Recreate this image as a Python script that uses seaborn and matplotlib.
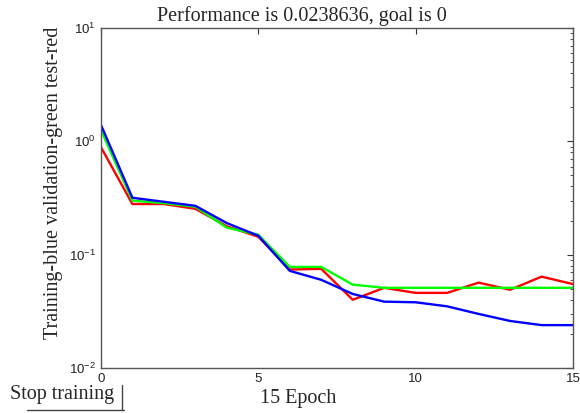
import matplotlib
matplotlib.use('Agg')
import matplotlib.pyplot as plt
import seaborn as sns
import pandas as pd
from matplotlib.lines import Line2D

# performance per epoch
epochs = list(range(16))
train = [1.40, 0.318, 0.293, 0.270, 0.190, 0.147, 0.072, 0.060, 0.045,
         0.0385, 0.038, 0.035, 0.030, 0.026, 0.0239, 0.0239]
validation = [1.26, 0.300, 0.285, 0.265, 0.173, 0.150, 0.078, 0.078, 0.0544,
              0.051, 0.051, 0.051, 0.051, 0.051, 0.051, 0.051]
test = [0.89, 0.280, 0.280, 0.254, 0.178, 0.144, 0.074, 0.075, 0.040,
        0.051, 0.046, 0.046, 0.0567, 0.049, 0.064, 0.055]

title = 'Performance is 0.0238636, goal is 0'
ylabel = 'Training-blue validation-green test-red'
xlabel = '15 Epoch'

sns.set_style('white')
plt.rcParams['font.family'] = ['Liberation Sans', 'DejaVu Sans']
plt.rcParams['mathtext.fontset'] = 'custom'
plt.rcParams['mathtext.rm'] = 'Liberation Sans'
plt.rcParams['mathtext.it'] = 'Liberation Sans'

fig, ax = plt.subplots(figsize=(5.8, 4.13), dpi=100)
fig.subplots_adjust(left=0.174, right=0.988, bottom=0.109, top=0.932)

df = pd.DataFrame({'epoch': epochs, 'train': train,
                   'validation': validation, 'test': test})
for col, color in [('test', '#ff0000'), ('validation', '#00ff00'), ('train', '#0000ff')]:
    sns.lineplot(data=df, x='epoch', y=col, color=color, linewidth=1.7, ax=ax)

ax.set_yscale('log')
ax.set_xlim(0, 15)
ax.set_ylim(1e-2, 1e1)
ax.set_xticks([0, 5, 10, 15])
ax.set_xlabel('')
ax.set_ylabel('')
ax.tick_params(which='both', direction='in', top=True, right=True,
               labelsize=9.5, colors='#333333', labelcolor='#222222')
ax.tick_params(which='major', length=4)
ax.tick_params(which='minor', length=2.5)
for s in ax.spines.values():
    s.set_color('#555555')
    s.set_linewidth(1.0)

serif = ['Liberation Serif', 'DejaVu Serif']
fs = 14.5
fig.text(0.521, 0.962, title, ha='center', va='center', fontsize=fs, family=serif)
fig.text(0.514, 0.036, xlabel, ha='center', va='center', fontsize=fs, family=serif)
fig.text(0.092, 0.558, ylabel, ha='center', va='center', rotation=90,
         fontsize=fs, family=serif)

# "Stop training" button
fig.text(0.017, 0.045, 'Stop training', ha='left', va='center', fontsize=fs, family=serif)
fig.add_artist(Line2D([0.047, 0.213], [0.008, 0.008], color='#444444', lw=1.0))
fig.add_artist(Line2D([0.211, 0.211], [0.008, 0.068], color='#444444', lw=1.0))

fig.savefig('out.png', dpi=100)
